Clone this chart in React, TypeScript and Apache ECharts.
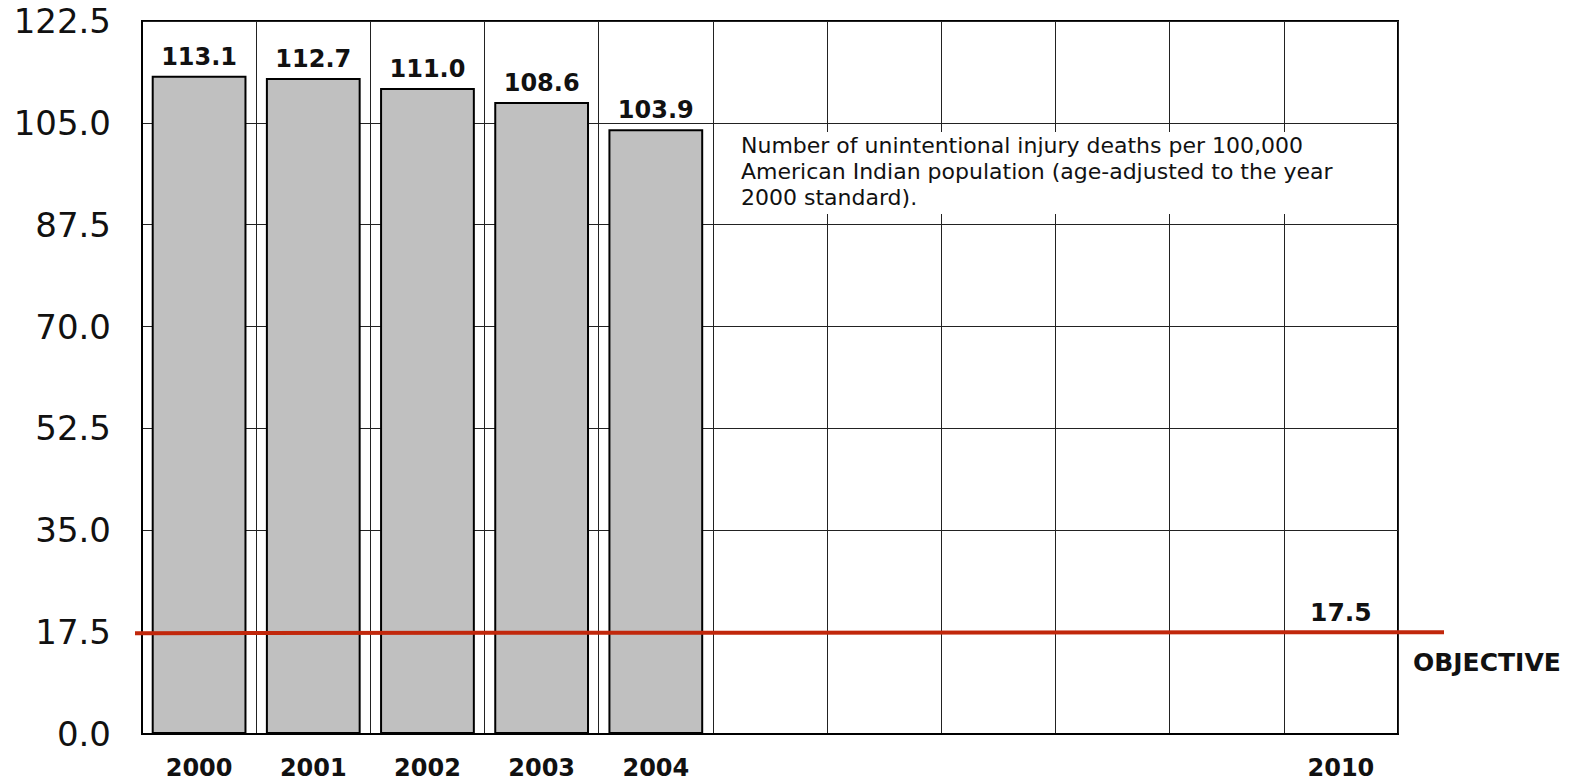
import React, { useEffect, useRef } from "react";
import * as echarts from "echarts";

const years = ["2000", "2001", "2002", "2003", "2004", "2005", "2006", "2007", "2008", "2009", "2010"];
const rates: (number | null)[] = [113.1, 112.7, 111.0, 108.6, 103.9, null, null, null, null, null, null];
const labeledYears = ["2000", "2001", "2002", "2003", "2004", "2010"];
const yMin = 0;
const yMax = 122.5;
const yInterval = 17.5;
const objective = 17.5;
const objectiveYear = "2010";
const objectiveLabel = "OBJECTIVE";
const noteLines = [
  "Number of unintentional injury deaths per 100,000",
  "American Indian population (age-adjusted to the year",
  "2000 standard).",
];

const FONT = "'DejaVu Sans', Verdana, sans-serif";

export default function App() {
  const ref = useRef<HTMLDivElement>(null);
  useEffect(() => {
    if (!ref.current) return;
    const chart = echarts.init(ref.current, null, { renderer: "svg" });
    chart.setOption({
      animation: false,
      backgroundColor: "#fff",
      grid: {
        left: 142,
        top: 21,
        right: 194,
        bottom: 48,
        show: true,
        borderColor: "#000",
        borderWidth: 2,
        backgroundColor: "transparent",
      },
      xAxis: {
        type: "category",
        data: years,
        boundaryGap: true,
        axisLine: { show: true, lineStyle: { color: "#000", width: 2 } },
        axisTick: { show: false },
        splitLine: { show: true, interval: 0, lineStyle: { color: "#222", width: 1 } },
        axisLabel: {
          interval: 0,
          margin: 24,
          lineHeight: 20,
          fontFamily: FONT,
          fontSize: 24,
          fontWeight: "bold",
          color: "#111",
          formatter: (v: string) => (labeledYears.includes(v) ? v : ""),
        },
      },
      yAxis: {
        type: "value",
        min: yMin,
        max: yMax,
        interval: yInterval,
        axisLine: { show: true, lineStyle: { color: "#000", width: 2 } },
        axisTick: { show: false },
        splitLine: { show: true, lineStyle: { color: "#222", width: 1 } },
        axisLabel: {
          margin: 31,
          fontFamily: FONT,
          fontSize: 34,
          color: "#111",
          formatter: (v: number) => v.toFixed(1),
        },
      },
      series: [
        {
          type: "bar",
          data: rates,
          barCategoryGap: "17%",
          itemStyle: { color: "#c0c0c0", borderColor: "#000", borderWidth: 2 },
          label: {
            show: true,
            position: "top",
            distance: 7,
            fontFamily: FONT,
            fontSize: 24,
            fontWeight: "bold",
            color: "#111",
            formatter: (p: any) => (p.value == null ? "" : Number(p.value).toFixed(1)),
          },
          z: 2,
        },
      ],
    });

    const yPix = chart.convertToPixel({ yAxisIndex: 0 }, objective) as number;
    const xObj = chart.convertToPixel({ xAxisIndex: 0 }, objectiveYear) as number;

    chart.setOption({
      graphic: [
        {
          type: "rect",
          z: 5,
          shape: { x: 724, y: 132, width: 662, height: 82 },
          style: { fill: "#fff" },
        },
        {
          type: "text",
          z: 6,
          x: 741,
          y: 133,
          style: {
            text: noteLines.join("\n"),
            font: `22px ${FONT}`,
            lineHeight: 25.7,
            fill: "#111",
          },
        },
        {
          type: "line",
          z: 10,
          shape: { x1: 135, y1: yPix + 1, x2: 1444, y2: yPix },
          style: { stroke: "#c1270b", lineWidth: 4 },
        },
        {
          type: "text",
          z: 10,
          x: xObj,
          y: yPix - 20,
          style: {
            text: objective.toFixed(1),
            font: `bold 25px ${FONT}`,
            fill: "#111",
            align: "center",
            verticalAlign: "middle",
          },
        },
        {
          type: "text",
          z: 10,
          x: 1413,
          y: yPix + 30,
          style: {
            text: objectiveLabel,
            font: `bold 25px ${FONT}`,
            fill: "#111",
            align: "left",
            verticalAlign: "middle",
          },
        },
      ],
    });

    return () => chart.dispose();
  }, []);
  return (
    <div
      ref={ref}
      style={{ position: "absolute", left: 0, top: 0, width: 1592, height: 782 }}
    />
  );
}
